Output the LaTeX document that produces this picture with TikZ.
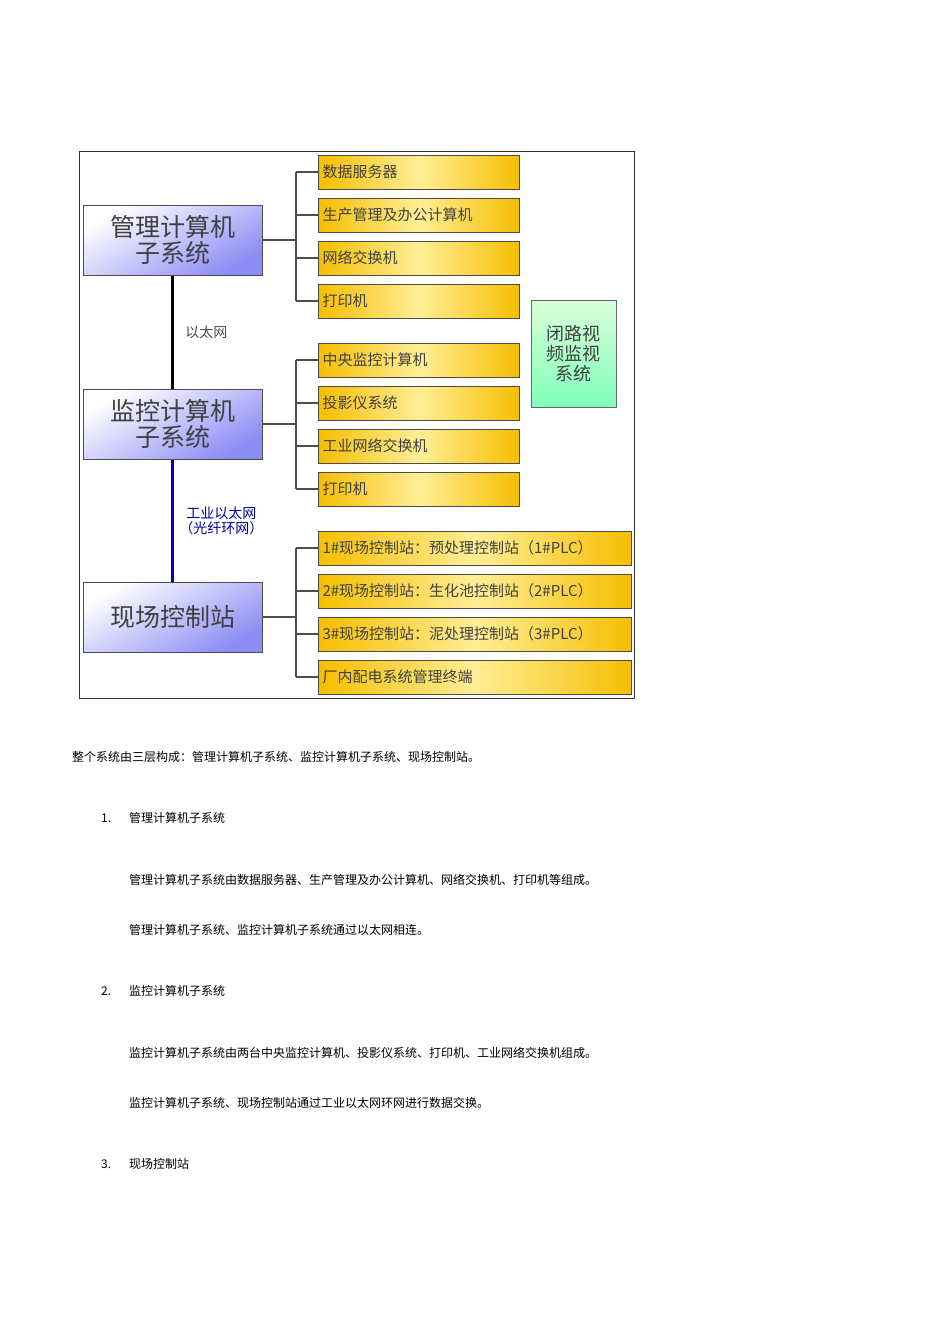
\documentclass[tikz,border=0pt]{standalone}
\usepackage{fontspec}
\newfontfamily\cjk{Noto Sans CJK SC}
\definecolor{gold}{RGB}{245,190,0}
\definecolor{lgold}{RGB}{255,238,150}
\definecolor{lav}{RGB}{140,140,245}
\begin{document}
\begin{tikzpicture}[x=1pt,y=-1pt,
  bluebox/.style={draw=black!70,line width=1pt,top color=white,bottom color=lav,shading angle=30,minimum width=179pt,minimum height=70pt,inner sep=0pt,font=\cjk\fontsize{25}{26}\selectfont,text=black!75,align=center},
  ybox/.style={draw=black!70,line width=1pt,left color=gold,right color=gold,middle color=lgold,minimum height=34pt,inner sep=4pt,font=\cjk\fontsize{15}{16}\selectfont,text=black!75,anchor=west,text width=#1,align=left},
  link/.style={draw=black!70,line width=1.2pt},
  txt/.style={font=\cjk\fontsize{12}{13}\selectfont,anchor=west,inner sep=0pt}]
\useasboundingbox (0,0) rectangle (950,1344);
\fill[white] (0,0) rectangle (950,1344);
\draw[black!80,line width=1pt] (79,151) rectangle (634,698);
\node[bluebox] (m) at (172.5,240) {管理计算机\\子系统};
\node[bluebox] (s) at (172.5,424) {监控计算机\\子系统};
\node[bluebox] (f) at (172.5,617) {现场控制站};
\node[draw=black!60,line width=1pt,top color=green!15,bottom color=green!55!cyan!50,minimum width=85pt,minimum height=107pt,font=\cjk\fontsize{18}{20}\selectfont,align=center,text=black!75] (cctv) at (573.5,353.5) {闭路视\\频监视\\系统};
\draw[black,line width=3pt] (m.south) -- (s.north) node[midway,right=8pt,font=\cjk\fontsize{14}{15}\selectfont,text=black!70] {以太网};
\draw[blue!80!black,line width=3pt] (s.south) -- (f.north) node[midway,right=2pt,font=\cjk\fontsize{14}{15}\selectfont,text=blue!60!black,align=center] {工业以太网\\（光纤环网）};
% group 1
\foreach \y/\t [count=\i] in {172/数据服务器,215/生产管理及办公计算机,258/网络交换机,301/打印机}{
  \node[ybox=193pt] (a\i) at (318,\y) {\t};
  \draw[link] (296,\y) -- (a\i.west);}
\coordinate (j1) at (296,240);
\draw[link] (m.east) -- (j1); \draw[link] (296,172) -- (296,301);
% group 2
\foreach \y/\t [count=\i] in {360/中央监控计算机,403/投影仪系统,446/工业网络交换机,489/打印机}{
  \node[ybox=193pt] (b\i) at (318,\y) {\t};
  \draw[link] (296,\y) -- (b\i.west);}
\coordinate (j2) at (296,424);
\draw[link] (s.east) -- (j2); \draw[link] (296,360) -- (296,489);
% group 3
\foreach \y/\t [count=\i] in {548/1\#现场控制站：预处理控制站（1\#PLC）,591/2\#现场控制站：生化池控制站（2\#PLC）,634/3\#现场控制站：泥处理控制站（3\#PLC）,677/厂内配电系统管理终端}{
  \node[ybox=305pt] (c\i) at (318,\y) {\t};
  \draw[link] (296,\y) -- (c\i.west);}
\coordinate (j3) at (296,617);
\draw[link] (f.east) -- (j3); \draw[link] (296,548) -- (296,677);
% body text
\node[txt] at (72,757) {整个系统由三层构成：管理计算机子系统、监控计算机子系统、现场控制站。};
\node[txt] at (101,818) {1.};
\node[txt] at (129,818) {管理计算机子系统};
\node[txt] at (129,880) {管理计算机子系统由数据服务器、生产管理及办公计算机、网络交换机、打印机等组成。};
\node[txt] at (129,930) {管理计算机子系统、监控计算机子系统通过以太网相连。};
\node[txt] at (101,991) {2.};
\node[txt] at (129,991) {监控计算机子系统};
\node[txt] at (129,1053) {监控计算机子系统由两台中央监控计算机、投影仪系统、打印机、工业网络交换机组成。};
\node[txt] at (129,1103) {监控计算机子系统、现场控制站通过工业以太网环网进行数据交换。};
\node[txt] at (101,1164) {3.};
\node[txt] at (129,1164) {现场控制站};
\end{tikzpicture}
\end{document}
